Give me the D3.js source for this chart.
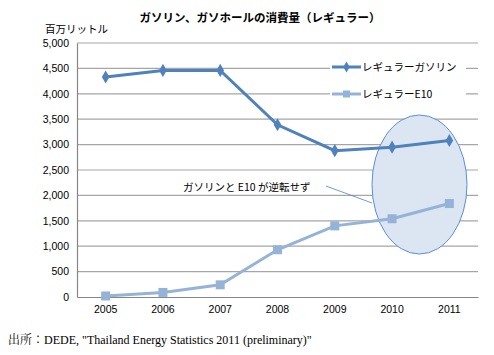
<!DOCTYPE html>
<html><head><meta charset="utf-8">
<script src="https://cdn.jsdelivr.net/npm/d3@7/dist/d3.min.js"></script>
<style>body{margin:0;background:#fff}svg{display:block}</style>
</head><body>
<script>
const years = ["2005","2006","2007","2008","2009","2010","2011"];
const gasoline = [4330, 4460, 4460, 3390, 2880, 2950, 3080];
const e10 = [20, 90, 240, 930, 1400, 1540, 1840];
const yTicks = [0,500,1000,1500,2000,2500,3000,3500,4000,4500,5000];
const seriesNames = ["レギュラーガソリン","レギュラーE10"];
const title = "ガソリン、ガソホールの消費量（レギュラー）";
const unit = "百万リットル";
const note = "ガソリンと E10 が逆転せず";
const sourceLabel = "出所：";
const source = "DEDE, \"Thailand Energy Statistics 2011 (preliminary)\"";

const W=494,H=355;
const svg=d3.select("body").append("svg").attr("width",W).attr("height",H);
const L=77,R=478,T=43,B=297;
const x=d3.scaleBand().domain(years).range([L,R]);
const y=d3.scaleLinear().domain([0,5000]).range([B,T]);
const sans="'Liberation Sans', Arial, 'Noto Sans CJK JP', sans-serif";
const jp="'Noto Sans CJK JP', sans-serif";

// gridlines
svg.append("g").selectAll("line").data(yTicks.filter(d=>d>0)).join("line")
 .attr("x1",L).attr("x2",R).attr("y1",d=>y(d)).attr("y2",d=>y(d))
 .attr("stroke","#a6a6a6").attr("stroke-width",1.2);

// ellipse
svg.append("ellipse").attr("cx",419.5).attr("cy",184.5).attr("rx",47.5).attr("ry",69.5)
 .attr("fill","#dce6f2").attr("stroke","#5b8fd4").attr("stroke-width",1);

// axes
const yAxis=d3.axisLeft(y).tickValues(yTicks).tickSize(0).tickPadding(8).tickFormat(d3.format(","));
const gy=svg.append("g").attr("transform",`translate(${L},0)`).call(yAxis);
gy.select(".domain").attr("stroke","#868686").attr("stroke-width",1.2);
gy.selectAll("text").attr("font-family",sans).attr("font-size",10.5).attr("fill","#000");
const xAxis=d3.axisBottom(x).tickSize(0).tickPadding(9);
const gx=svg.append("g").attr("transform",`translate(0,${B})`).call(xAxis);
gx.select(".domain").attr("stroke","#868686").attr("stroke-width",1.2);
gx.selectAll("text").attr("font-family",sans).attr("font-size",10.5).attr("fill","#000");

const cx=d=>x(d)+x.bandwidth()/2;
const line=d3.line().x((d,i)=>cx(years[i])).y(d=>y(d));

// series
svg.append("path").datum(e10).attr("d",line).attr("fill","none").attr("stroke","#95b3d7").attr("stroke-width",3);
svg.append("g").selectAll("rect").data(e10).join("rect")
 .attr("x",(d,i)=>cx(years[i])-4.5).attr("y",d=>y(d)-4.5).attr("width",9).attr("height",9).attr("fill","#95b3d7");
svg.append("path").datum(gasoline).attr("d",line).attr("fill","none").attr("stroke","#4f81bd").attr("stroke-width",3);
svg.append("g").selectAll("path.m").data(gasoline).join("path")
 .attr("d",d3.symbol(d3.symbolDiamond,50)).attr("transform",(d,i)=>`translate(${cx(years[i])},${y(d)})`).attr("fill","#4f81bd");

// legend
const lg=[{c:"#4f81bd",y:67,s:"d"},{c:"#95b3d7",y:94,s:"s"}];
lg.forEach((l,i)=>{
  svg.append("rect").attr("x",330).attr("y",l.y-10).attr("width",136).attr("height",16).attr("fill","#fff");
  svg.append("line").attr("x1",332).attr("x2",361).attr("y1",l.y).attr("y2",l.y).attr("stroke",l.c).attr("stroke-width",3);
  if(l.s==="d") svg.append("path").attr("d",d3.symbol(d3.symbolDiamond,36)).attr("transform",`translate(346.5,${l.y})`).attr("fill",l.c);
  else svg.append("rect").attr("x",343).attr("y",l.y-3.5).attr("width",7).attr("height",7).attr("fill",l.c);
  svg.append("text").attr("x",362).attr("y",l.y+4).text(seriesNames[i]).attr("font-family",jp).attr("font-size",10.5).attr("fill","#000");
});

// annotation
svg.append("rect").attr("x",178).attr("y",178).attr("width",148).attr("height",16).attr("fill","#fff");
svg.append("text").attr("x",183).attr("y",191).text(note).attr("font-family",jp).attr("font-size",10.5).attr("fill","#000");
svg.append("line").attr("x1",326).attr("y1",186).attr("x2",372).attr("y2",203).attr("stroke","#4f81bd").attr("stroke-width",0.8);

// title & unit
svg.append("text").attr("x",260).attr("y",22).attr("text-anchor","middle").text(title)
 .attr("font-family",jp).attr("font-weight","bold").attr("font-size",11.5).attr("fill","#000");
svg.append("text").attr("x",45).attr("y",33).text(unit).attr("font-family",jp).attr("font-size",10.5).attr("fill","#000");
const st=svg.append("text").attr("x",8).attr("y",344).attr("font-size",12).attr("fill","#000");
st.append("tspan").text(sourceLabel).attr("font-family","'Noto Serif CJK JP','Noto Sans CJK JP', serif");
st.append("tspan").text(source).attr("font-family","'Liberation Serif', serif");
</script>
</body></html>
